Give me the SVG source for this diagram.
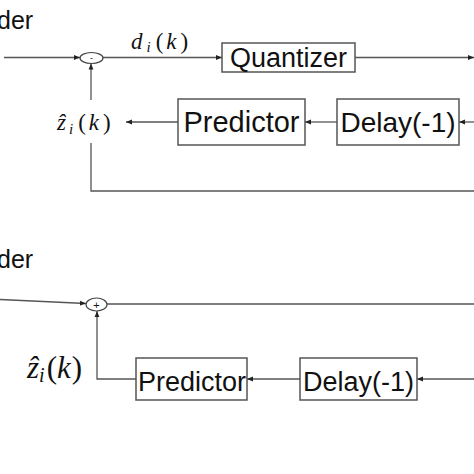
<svg xmlns="http://www.w3.org/2000/svg" width="474" height="474" viewBox="0 0 474 474">
<defs>
<marker id="ah" viewBox="0 0 10 10" refX="10" refY="5" markerWidth="6" markerHeight="6" markerUnits="userSpaceOnUse" orient="auto">
<path d="M0,1 L10,5 L0,9 Z" fill="#222"/>
</marker>
</defs>
<style>
.box{fill:#fff;stroke:#555;stroke-width:1.5}
.ln{fill:none;stroke:#555;stroke-width:1.3}
.arr{fill:none;stroke:#555;stroke-width:1.3;marker-end:url(#ah)}
.lbl{font-family:"Liberation Sans",Arial,sans-serif;fill:#111}
.math{font-family:"Liberation Serif","Times New Roman",serif;font-style:italic;fill:#111}
.sum{fill:#fff;stroke:#444;stroke-width:1.2}
</style>
<rect width="474" height="474" fill="#fff"/>
<text class="lbl" x="-3" y="29" font-size="25">der</text>
<text class="lbl" x="-3" y="268" font-size="25">der</text>
<g id="connectors">
<line class="arr" x1="4" y1="57.5" x2="80" y2="57.5"/>
<line class="arr" x1="103" y1="57.5" x2="222" y2="57.5"/>
<line class="arr" x1="355" y1="57.5" x2="474" y2="57.5"/>
<line class="arr" x1="474" y1="122" x2="459" y2="122"/>
<line class="arr" x1="337" y1="122" x2="305" y2="122"/>
<line class="arr" x1="178" y1="122" x2="126" y2="122"/>
<line class="arr" x1="91" y1="100" x2="91" y2="63.5"/>
<polyline class="ln" points="91,143 91,191 474,191"/>
<line class="arr" x1="0" y1="299.5" x2="86" y2="303.5"/>
<line class="ln" x1="107" y1="304" x2="474" y2="304"/>
<polyline class="arr" points="136,379 97,379 97,311"/>
<line class="arr" x1="300" y1="379" x2="247" y2="379"/>
<line class="arr" x1="474" y1="379" x2="417" y2="379"/>
</g>
<g id="sum1">
<ellipse class="sum" cx="91.5" cy="58" rx="11.5" ry="5.5"/>
<text class="lbl" x="91.5" y="61" font-size="9" text-anchor="middle">-</text>
</g>
<g id="sum2">
<ellipse class="sum" cx="96.5" cy="304.5" rx="10.5" ry="6.5"/>
<text class="lbl" x="96.5" y="308.5" font-size="11" text-anchor="middle">+</text>
</g>
<g id="label-d">
<text class="math" x="131" y="49" font-size="23">d<tspan font-size="15" dx="4" dy="3">i</tspan><tspan font-style="normal" dx="5" dy="-3">(</tspan><tspan dx="3">k</tspan><tspan font-style="normal" dx="4">)</tspan></text>
</g>
<g id="label-z1">
<text class="math" x="57" y="130" font-size="23">ẑ<tspan font-size="15" dx="3" dy="4">i</tspan><tspan font-style="normal" dx="5" dy="-4">(</tspan><tspan dx="3">k</tspan><tspan font-style="normal" dx="4">)</tspan></text>
</g>
<g id="label-z2">
<text class="math" x="27" y="378" font-size="31">ẑ<tspan font-size="20" dy="4">i</tspan><tspan font-style="normal" dx="2" dy="-4">(</tspan><tspan>k</tspan><tspan font-style="normal" dx="1">)</tspan></text>
</g>
<g id="quantizer">
<rect class="box" x="222" y="43" width="133" height="29"/>
<text class="lbl" x="288.5" y="67" font-size="27" text-anchor="middle">Quantizer</text>
</g>
<g id="predictor1">
<rect class="box" x="178" y="99" width="127" height="46"/>
<text class="lbl" x="241.5" y="132" font-size="29" text-anchor="middle">Predictor</text>
</g>
<g id="delay1">
<rect class="box" x="337" y="99" width="122" height="46"/>
<text class="lbl" x="398" y="132" font-size="28" text-anchor="middle">Delay(-1)</text>
</g>
<g id="predictor2">
<rect class="box" x="136" y="358" width="111" height="42"/>
<text class="lbl" x="192" y="391" font-size="27" text-anchor="middle">Predictor</text>
</g>
<g id="delay2">
<rect class="box" x="300" y="358" width="117" height="42"/>
<text class="lbl" x="358.5" y="391" font-size="27" text-anchor="middle">Delay(-1)</text>
</g>
</svg>
